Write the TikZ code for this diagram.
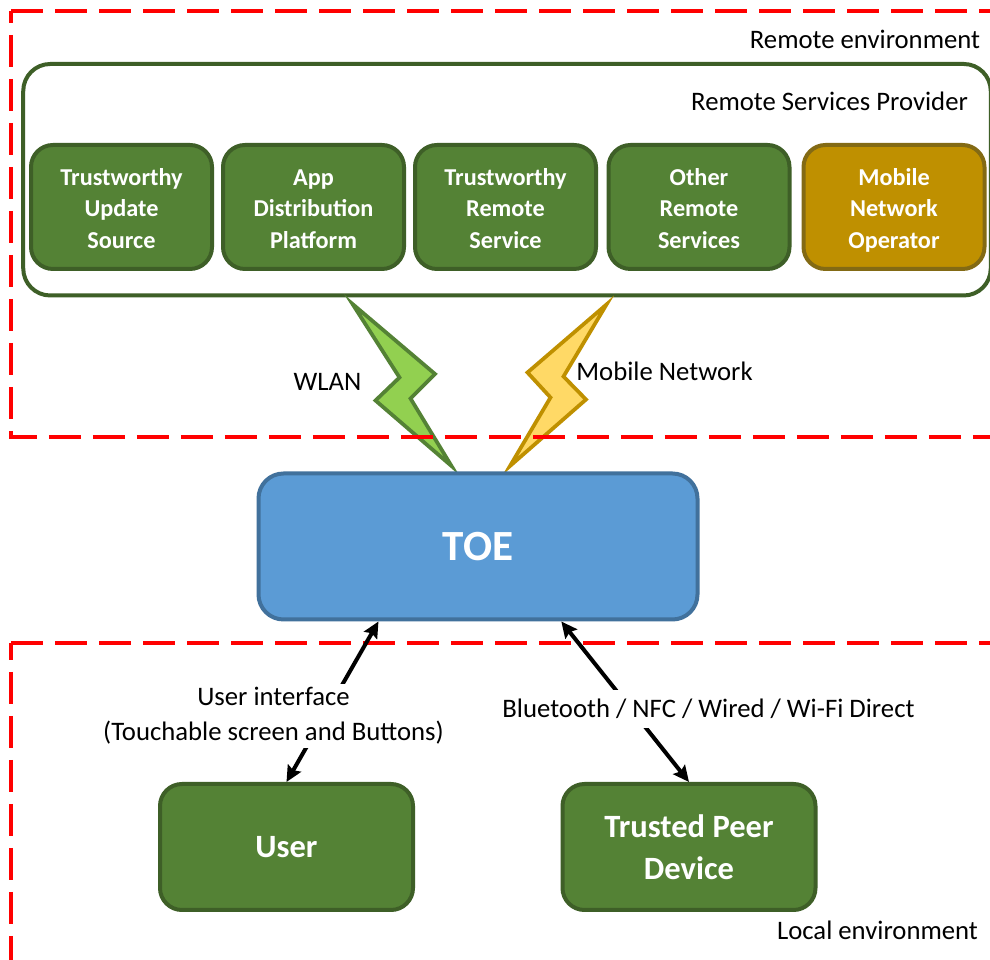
\documentclass[tikz,border=0pt]{standalone}
\usepackage{fontspec}
\usetikzlibrary{arrows.meta}
\setmainfont{Carlito}

\definecolor{leaf}{HTML}{548235}
\definecolor{leafdark}{HTML}{3E5F27}
\definecolor{amber}{HTML}{BF9000}
\definecolor{amberdark}{HTML}{836A14}
\definecolor{toeblue}{HTML}{5B9BD5}
\definecolor{toeedge}{HTML}{41719C}
\definecolor{wlangreen}{HTML}{92D050}
\definecolor{mobileyellow}{HTML}{FFD966}

\tikzset{
  plainlabel/.style={font=\fontsize{15.2}{19.8}\selectfont, align=center, inner sep=2pt},
  greenbox/.style={draw=leafdark, fill=leaf, text=white, line width=0.08cm, rounded corners=0.44cm, align=center},
  svcbox/.style={greenbox, minimum width=3.62cm, minimum height=2.48cm,
    text height=47pt, text depth=0pt, font=\fontsize{13.8}{17.9}\bfseries\selectfont},
  opbox/.style={svcbox, draw=amberdark, fill=amber},
  peerbox/.style={greenbox, minimum width=5.06cm, minimum height=2.52cm,
    font=\fontsize{18.5}{23.8}\bfseries\selectfont},
  zoneline/.style={draw=red, line width=0.08cm, dash pattern=on 0.64cm off 0.24cm},
  bolt/.style={line width=0.075cm, miter limit=10},
  linkarrow/.style={{Stealth[length=0.32cm,width=0.3cm,inset=0.05cm]}-{Stealth[length=0.32cm,width=0.3cm,inset=0.05cm]}, line width=0.08cm}
}

\begin{document}
\begin{tikzpicture}
\clip (0,0) rectangle (19.8,19.2);
\fill[white] (0,0) rectangle (19.8,19.2);

% remote side
\node[draw=leafdark, fill=white, line width=0.08cm, rounded corners=0.54cm,
  minimum width=19.35cm, minimum height=4.63cm] (provider) at (10.14,15.605) {};
\node[svcbox] (update) at (2.43,15.06) {Trustworthy\\Update\\Source};
\node[svcbox] (appstore) at (6.27,15.06) {App\\Distribution\\Platform};
\node[svcbox] (trustremote) at (10.11,15.06) {Trustworthy\\Remote\\Service};
\node[svcbox] (otherremote) at (13.98,15.06) {Other\\Remote\\Services};
\node[opbox] (operator) at (17.88,15.06) {Mobile\\Network\\Operator};

% the two radio links
\draw[bolt, draw=leaf, fill=wlangreen]
  (7.05,13.12) -- (8.70,11.72) -- (8.21,11.23) -- (9.03,9.88)
  -- (7.51,11.19) -- (7.99,11.65) -- cycle;
\draw[bolt, draw=amber, fill=mobileyellow]
  (12.13,13.11) -- (10.55,11.75) -- (11.01,11.25) -- (10.20,9.88)
  -- (11.72,11.21) -- (11.27,11.67) -- cycle;

% environments
\draw[zoneline] (0.225,18.98) -- (20.2,18.98);
\draw[zoneline, dash phase=0.4cm] (0.225,18.98) -- (0.225,10.45) -- (20.2,10.45);
\draw[zoneline] (0.225,6.34) -- (20.2,6.34);
\draw[zoneline, dash phase=0.3cm] (0.225,6.34) -- (0.225,-0.5);

\node[plainlabel] (remotelabel) at (17.3,18.42) {Remote environment};
\node[plainlabel] (providerlabel) at (16.59,17.18) {Remote Services Provider};
\node[plainlabel] (wlanlabel) at (6.55,11.56) {WLAN};
\node[plainlabel] (mobilelabel) at (13.29,11.78) {Mobile Network};
\node[plainlabel] (locallabel) at (17.55,0.6) {Local environment};

% device and its peers
\node[draw=toeedge, fill=toeblue, text=white, line width=0.08cm, rounded corners=0.5cm,
  minimum width=8.78cm, minimum height=2.92cm,
  font=\fontsize{24.5}{28}\bfseries\selectfont] (toe) at (9.56,8.27) {TOE};
\node[peerbox] (user) at (5.73,2.26) {User};
\node[peerbox] (peer) at (13.78,2.26) {Trusted Peer\\Device};

\draw[linkarrow] (user.north) -- (toe.217);
\draw[linkarrow] (peer.north) -- (toe.318.6);

\node[plainlabel, fill=white] (uilabel) at (5.47,4.88) {User interface\\(Touchable screen and Buttons)};
\node[plainlabel, fill=white, minimum height=0.76cm] (peerlabel) at (14.17,5.02) {Bluetooth / NFC / Wired / Wi-Fi Direct};
\end{tikzpicture}
\end{document}
